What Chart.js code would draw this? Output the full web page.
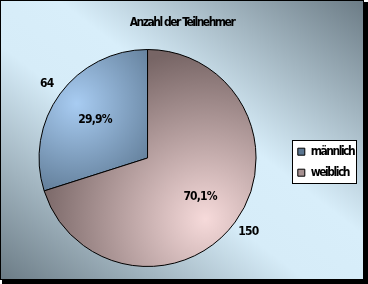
<!DOCTYPE html>
<html><head><meta charset="utf-8">
<script src="https://cdn.jsdelivr.net/npm/chart.js@4/dist/chart.umd.min.js"></script>
<style>
html,body{margin:0;padding:0;background:#fff;}
#wrap{position:absolute;left:0;top:0;width:364px;height:280px;box-sizing:border-box;border:1px solid #000;
box-shadow:3px 3px 0 1px #000;
background:linear-gradient(to top right,#6c7c86 0%,#d6ecf8 42%,#d8eefa 58%,#6c7c86 100%);}
canvas{display:block;}
</style></head>
<body>
<div id="wrap"><canvas id="c" width="362" height="278"></canvas></div>
<script>
const chartTitle = 'Anzahl der Teilnehmer';
const categories = ['männlich', 'weiblich'];
const counts = [64, 150];

const TFONT = '"DejaVu Sans Condensed","Liberation Sans",Arial,sans-serif';

function pieGeom(chart){
  const a = chart.chartArea;
  return {cx:(a.left+a.right)/2, cy:(a.top+a.bottom)/2, r:Math.min(a.right-a.left,a.bottom-a.top)/2};
}
function sliceFill(ctx){
  const chart = ctx.chart;
  if(!chart.chartArea) return '#888';
  const g = pieGeom(chart);
  const c = chart.ctx;
  let grad;
  if(ctx.dataIndex === 0){
    grad = c.createRadialGradient(g.cx-0.65*g.r, g.cy-0.5*g.r, 0, g.cx-0.65*g.r, g.cy-0.5*g.r, 0.95*g.r);
    grad.addColorStop(0,'#a8ccf2');
    grad.addColorStop(1,'#5b7690');
  } else {
    grad = c.createRadialGradient(g.cx+0.53*g.r, g.cy+0.56*g.r, 0, g.cx+0.53*g.r, g.cy+0.56*g.r, 1.55*g.r);
    grad.addColorStop(0,'#f6dada');
    grad.addColorStop(1,'#776565');
  }
  return grad;
}

const tightText = {
  id:'tightText',
  beforeUpdate(chart){ chart.ctx.letterSpacing = '-1.5px'; },
  afterLayout(chart){
    const t = chart.titleBlock;
    if(t){ t.left = 0; t.right = chart.width; }
  },
  beforeDraw(chart){ chart.ctx.letterSpacing = '-1.5px'; }
};

const legendFrame = {
  id:'legendFrame',
  beforeDraw(chart){
    const lg = chart.legend; if(!lg || !lg.legendHitBoxes || !lg.legendHitBoxes.length) return;
    const hb = lg.legendHitBoxes;
    const first = hb[0], last = hb[hb.length-1];
    let w = 0; hb.forEach(h=>{w=Math.max(w,h.width);});
    const x0 = Math.round(first.left - 5.4) + 0.5;
    const y0 = Math.round(first.top - 5.7) + 0.5;
    const x1 = Math.round(first.left + w + 2) + 0.5;
    const y1 = Math.round(last.top + last.height + 4) + 0.5;
    const c = chart.ctx;
    c.save();
    c.fillStyle = '#fff';
    c.fillRect(x0,y0,x1-x0,y1-y0);
    c.strokeStyle = '#000'; c.lineWidth = 1;
    c.strokeRect(x0,y0,x1-x0,y1-y0);
    c.restore();
  }
};

const sliceLabels = {
  id:'sliceLabels',
  afterDatasetsDraw(chart){
    const meta = chart.getDatasetMeta(0);
    const data = chart.data.datasets[0].data;
    const total = data.reduce((s,v)=>s+v,0);
    const c = chart.ctx;
    c.save();
    c.letterSpacing = '-0.8px';
    c.font = 'bold 12px ' + TFONT;
    c.fillStyle = '#000';
    c.textAlign = 'center';
    c.textBaseline = 'middle';
    meta.data.forEach((arc,i)=>{
      const p = arc.getProps(['x','y','startAngle','endAngle','outerRadius'], true);
      const mid = (p.startAngle + p.endAngle)/2;
      const pct = (data[i]/total*100).toFixed(1).replace('.',',') + '%';
      c.fillText(pct, p.x + Math.cos(mid)*p.outerRadius*0.6, p.y + Math.sin(mid)*p.outerRadius*0.6);
      c.fillText(String(data[i]), p.x + Math.cos(mid)*p.outerRadius*1.15, p.y + Math.sin(mid)*p.outerRadius*1.15);
    });
    c.restore();
  }
};

const total = counts.reduce((s,v)=>s+v,0);
new Chart(document.getElementById('c'), {
  type:'pie',
  data:{ labels: categories, datasets:[{ data: counts, backgroundColor: sliceFill, borderColor:'#000', borderWidth:1 }]},
  options:{
    responsive:false, animation:false,
    rotation: -360*counts[0]/total,
    layout:{ padding:{ top:0, left:5.3, right:-1.2, bottom:12 } },
    plugins:{
      title:{ display:true, text: chartTitle, color:'#000', font:{ family:TFONT, size:12, weight:'bold' }, padding:{ top:15, bottom:18.6 } },
      legend:{ position:'right', fullSize:false,
        title:{ display:true, text:'', font:{ size:6 }, padding:{ top:0, bottom:1.2 } },
        labels:{ boxWidth:7, boxHeight:7, color:'#000', padding:9, font:{ family:TFONT, size:12, weight:'bold' } } },
      tooltip:{ enabled:false }
    }
  },
  plugins:[tightText, legendFrame, sliceLabels]
});
</script>
</body></html>
